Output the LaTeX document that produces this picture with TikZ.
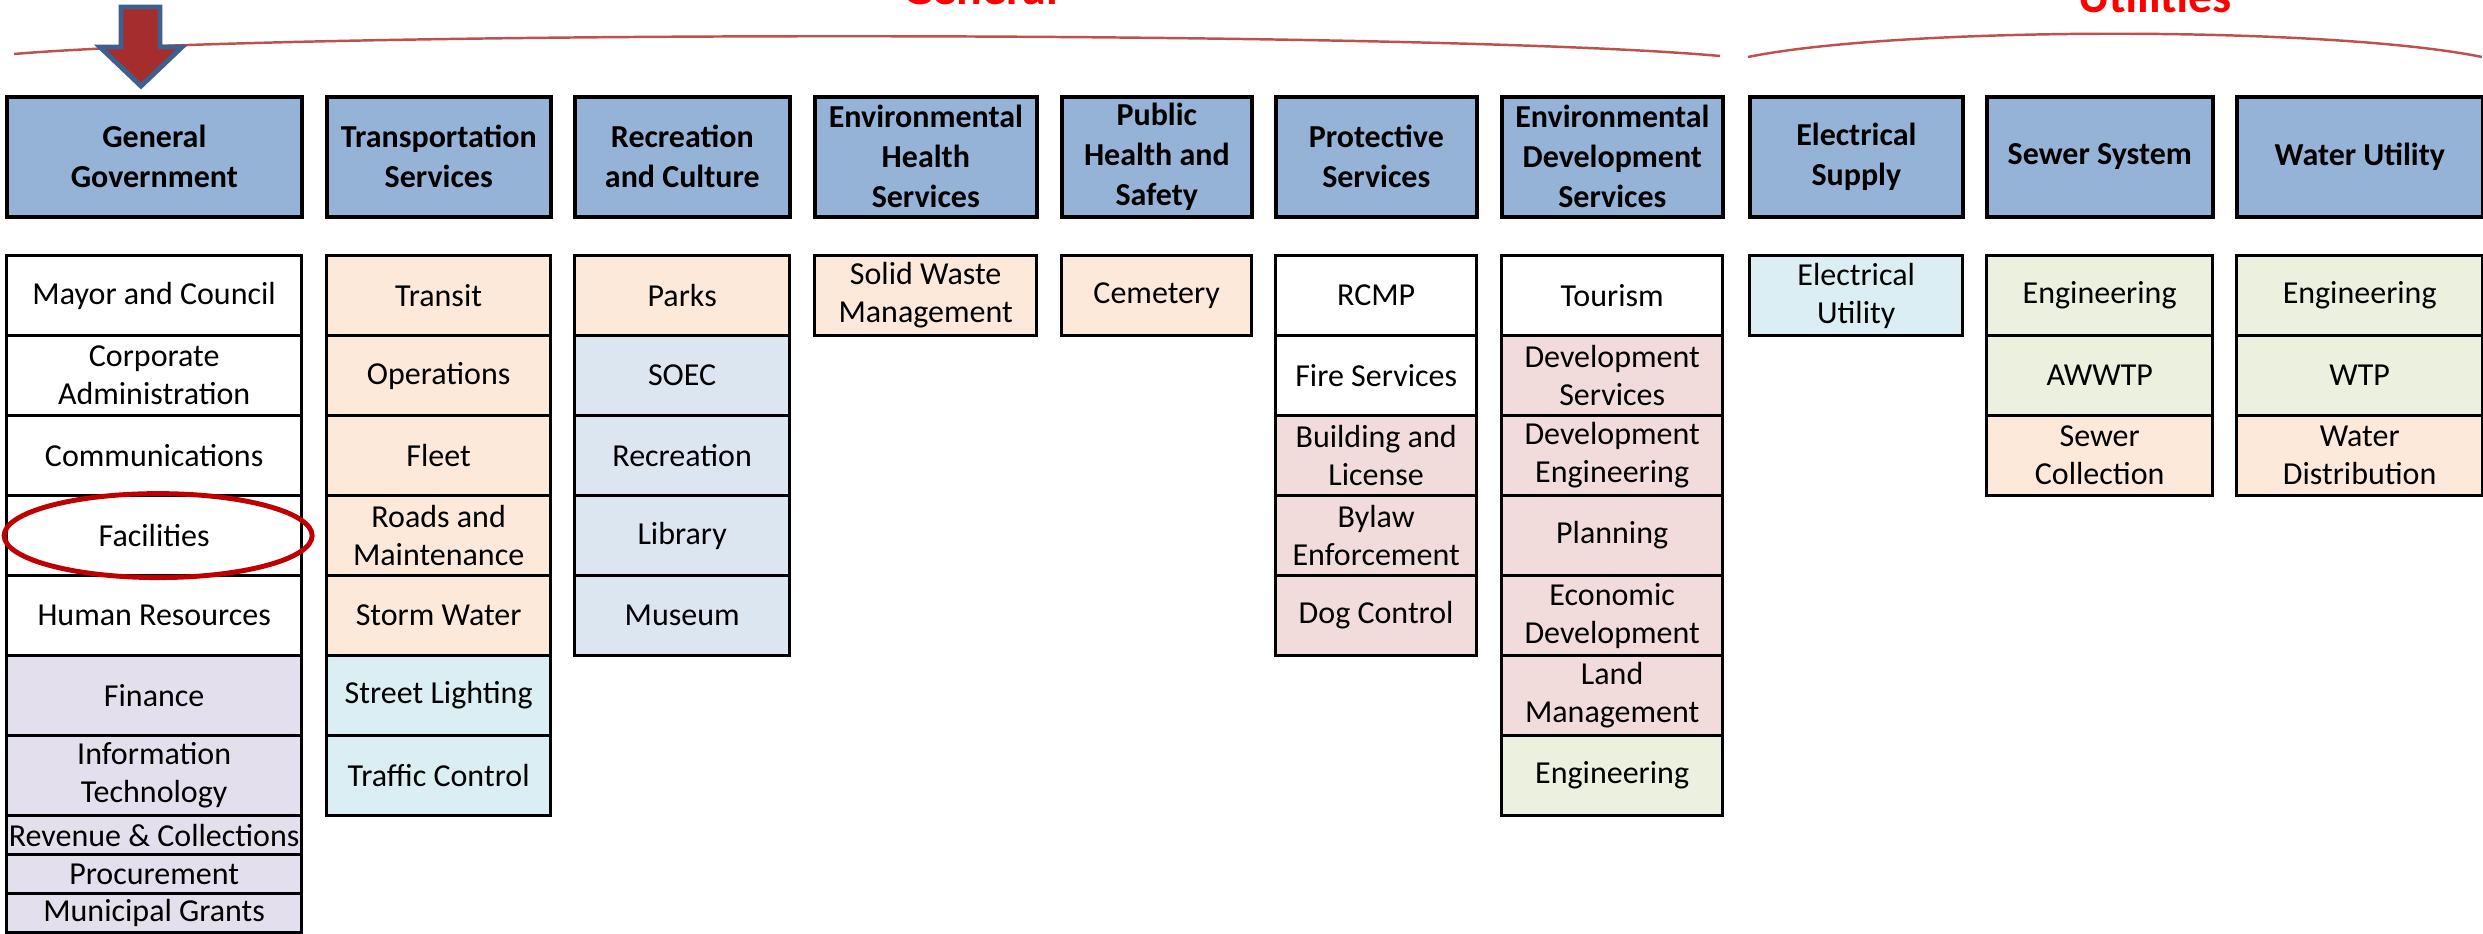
\documentclass[tikz,border=0pt]{standalone}
\usepackage{fontspec}
\setmainfont{Carlito}
\usepackage{tikz}
\usetikzlibrary{arrows.meta,shapes}

\definecolor{hdrblue}{HTML}{95B3D7}
\definecolor{peach}{HTML}{FDE9D9}
\definecolor{lilac}{HTML}{E4DFEC}
\definecolor{pink}{HTML}{F2DCDB}
\definecolor{sky}{HTML}{DAEEF3}
\definecolor{steel}{HTML}{DCE6F1}
\definecolor{sage}{HTML}{EBF1DE}
\definecolor{bracered}{HTML}{C0504D}
\definecolor{markred}{HTML}{C00000}
\definecolor{arrowfill}{HTML}{A52D2D}
\definecolor{arrowedge}{HTML}{3F5F8C}

\tikzset{
  hdr/.style={draw=black,line width=1pt,fill=hdrblue,anchor=north west,inner sep=0pt,
    minimum height=1.2cm,align=center,font=\fontsize{9.1}{11.4}\selectfont\bfseries},
  cell/.style={draw=black,line width=0.9pt,anchor=north west,inner sep=0pt,
    minimum height=0.8cm,align=center,font=\fontsize{9.1}{10.8}\selectfont},
  halfcell/.style={cell,minimum height=0.39cm},
  brace/.style={draw=bracered,line width=0.7pt},
  grouplbl/.style={text=red,anchor=base,font=\fontsize{13.6}{16}\selectfont\bfseries}
}

\begin{document}
\begin{tikzpicture}[x=0.01cm,y=-0.01cm]
\useasboundingbox (0,0) rectangle (2483,934);
% groups
\node[grouplbl] (general) at (980,5) {General};
\node[grouplbl] (utilities) at (2155,13) {Utilities};
\draw[brace] (14,54) .. controls (300,30) and (1430,30) .. (1720,56);
\draw[brace] (1748,57) .. controls (1900,26) and (2330,26) .. (2482,57);
% departments
\node[hdr,minimum width=2.95cm] (gg) at (5,95) {General\\Government};
\node[hdr,minimum width=2.24cm] (ts) at (325,95) {Transportation\\Services};
\node[hdr,minimum width=2.15cm] (rc) at (573,95) {Recreation\\and Culture};
\node[hdr,minimum width=2.22cm] (eh) at (813,95) {Environmental\\Health\\Services};
\node[hdr,minimum width=1.90cm] (ph) at (1060,95) {Public\\Health and\\Safety};
\node[hdr,minimum width=2.01cm] (ps) at (1274,95) {Protective\\Services};
\node[hdr,minimum width=2.21cm] (ed) at (1500,95) {Environmental\\Development\\Services};
\node[hdr,minimum width=2.13cm] (es) at (1748,95) {Electrical\\Supply};
\node[hdr,minimum width=2.26cm] (ss) at (1985,95) {Sewer System};
\node[hdr,minimum width=2.46cm] (wu) at (2235,95) {Water Utility};
% general government
\foreach \t/\c [count=\i] in {Mayor and Council/white,{Corporate\\Administration}/white,
    Communications/white,Facilities/white,Human Resources/white,Finance/lilac,
    {Information\\Technology}/lilac}
  \node[cell,fill=\c,minimum width=2.95cm] (gg\i) at (5,174+80*\i) {\t};
\node[halfcell,fill=lilac,minimum width=2.95cm] (gg8) at (5,814) {Revenue \& Collections};
\node[halfcell,fill=lilac,minimum width=2.95cm] (gg9) at (5,853) {Procurement};
\node[halfcell,fill=lilac,minimum width=2.95cm] (gg10) at (5,892) {Municipal Grants};
% transportation
\foreach \t/\c [count=\i] in {Transit/peach,Operations/peach,Fleet/peach,
    {Roads and\\Maintenance}/peach,Storm Water/peach,Street Lighting/sky,Traffic Control/sky}
  \node[cell,fill=\c,minimum width=2.24cm] (ts\i) at (325,174+80*\i) {\t};
% recreation
\foreach \t/\c [count=\i] in {Parks/peach,SOEC/steel,Recreation/steel,Library/steel,Museum/steel}
  \node[cell,fill=\c,minimum width=2.15cm] (rc\i) at (573,174+80*\i) {\t};
\node[cell,fill=peach,minimum width=2.22cm] (eh1) at (813,254) {Solid Waste\\Management};
\node[cell,fill=peach,minimum width=1.90cm] (ph1) at (1060,254) {Cemetery};
% protective
\foreach \t/\c [count=\i] in {RCMP/white,Fire Services/white,{Building and\\License}/pink,
    {Bylaw\\Enforcement}/pink,Dog Control/pink}
  \node[cell,fill=\c,minimum width=2.01cm] (ps\i) at (1274,174+80*\i) {\t};
% environmental development
\foreach \t/\c [count=\i] in {Tourism/white,{Development\\Services}/pink,
    {Development\\Engineering}/pink,Planning/pink,{Economic\\Development}/pink,
    {Land\\Management}/pink,Engineering/sage}
  \node[cell,fill=\c,minimum width=2.21cm] (ed\i) at (1500,174+80*\i) {\t};
% utilities
\node[cell,fill=sky,minimum width=2.13cm] (es1) at (1748,254) {Electrical\\Utility};
\foreach \t/\c [count=\i] in {Engineering/sage,AWWTP/sage,{Sewer\\Collection}/peach}
  \node[cell,fill=\c,minimum width=2.26cm] (ss\i) at (1985,174+80*\i) {\t};
\foreach \t/\c [count=\i] in {Engineering/sage,WTP/sage,{Water\\Distribution}/peach}
  \node[cell,fill=\c,minimum width=2.46cm] (wu\i) at (2235,174+80*\i) {\t};
% highlight
\draw[draw=arrowedge,fill=arrowfill,line width=1.4pt,line join=miter]
  (121,7) -- (160,7) -- (160,47) -- (182,47) -- (141,86) -- (100,47) -- (121,47) -- cycle;
\draw[markred,line width=1.4pt] ([xshift=0.04cm]gg4.center) ellipse [x radius=154,y radius=42];
\end{tikzpicture}
\end{document}
